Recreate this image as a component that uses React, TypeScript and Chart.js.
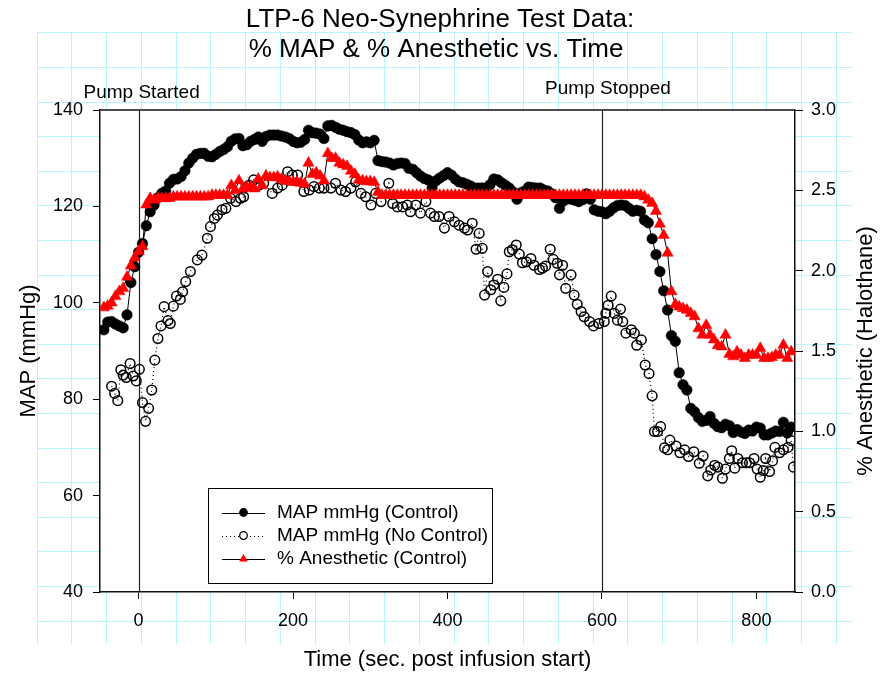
import React, { useEffect, useRef } from "react";
import { Chart, registerables } from "chart.js";

Chart.register(...registerables);
Chart.defaults.font.family = '"Liberation Sans", Arial, sans-serif';
Chart.defaults.color = "#000";

const TITLE_LINES = ["LTP-6 Neo-Synephrine Test Data:", "% MAP & % Anesthetic vs. Time"];
const X_TITLE = "Time (sec. post infusion start)";
const Y_TITLE = "MAP (mmHg)";
const Y1_TITLE = "% Anesthetic (Halothane)";
const SERIES_NAMES = ["MAP mmHg (Control)", "MAP mmHg (No Control)", "% Anesthetic (Control)"];
const EVENT_TIMES = [0, 600];
const EVENT_LABELS = ["Pump Started", "Pump Stopped"];
const X_TICKS = [0, 200, 400, 600, 800];
const Y_TICKS = [40, 60, 80, 100, 120, 140];
const Y1_TICKS = [0, 0.5, 1, 1.5, 2, 2.5, 3];

const controlTimes = [
  -45, -40, -35, -30, -25, -20, -15, -10, -5, 0,
  5, 10, 15, 20, 25, 30, 35, 40, 45, 50,
  55, 60, 65, 70, 75, 80, 85, 90, 95, 100,
  105, 110, 115, 120, 125, 130, 135, 140, 145, 150,
  155, 160, 165, 170, 175, 180, 185, 190, 195, 200,
  205, 210, 215, 220, 225, 230, 235, 240, 245, 250,
  255, 260, 265, 270, 275, 280, 285, 290, 295, 300,
  305, 310, 315, 320, 325, 330, 335, 340, 345, 350,
  355, 360, 365, 370, 375, 380, 385, 390, 395, 400,
  405, 410, 415, 420, 425, 430, 435, 440, 445, 450,
  455, 460, 465, 470, 475, 480, 485, 490, 495, 500,
  505, 510, 515, 520, 525, 530, 535, 540, 545, 550,
  555, 560, 565, 570, 575, 580, 585, 590, 595, 600,
  605, 610, 615, 620, 625, 630, 635, 640, 645, 650,
  655, 660, 665, 670, 675, 680, 685, 690, 695, 700,
  705, 710, 715, 720, 725, 730, 735, 740, 745, 750,
  755, 760, 765, 770, 775, 780, 785, 790, 795, 800,
  805, 810, 815, 820, 825, 830, 835, 840, 845,
];

const mapControl = [
  94.4, 96.0, 96.1, 95.6, 95.2, 94.8, 97.5, 104.2, 107.5, 110.5,
  112.3, 116.0, 118.9, 120.3, 121.8, 122.7, 123.2, 124.8, 125.6, 125.7,
  126.2, 127.4, 129.0, 130.0, 130.8, 131.0, 131.0, 130.4, 130.3, 130.8,
  131.4, 131.8, 132.4, 133.5, 134.0, 134.1, 132.6, 132.8, 133.5, 133.9,
  134.4, 133.5, 134.5, 134.8, 134.8, 134.8, 134.6, 134.4, 134.1, 133.5,
  133.2, 133.3, 133.9, 135.8, 135.3, 135.2, 135.0, 134.1, 136.7, 136.8,
  136.4, 136.0, 135.8, 135.5, 135.3, 134.9, 133.8, 133.2, 133.4, 133.2,
  133.7, 129.5, 129.3, 129.2, 129.0, 128.6, 128.9, 129.0, 128.9, 127.9,
  127.7, 127.0, 126.3, 125.8, 125.5, 123.8, 125.3, 125.9, 126.4, 127.0,
  126.5, 125.7, 125.1, 124.9, 124.6, 124.2, 123.8, 123.8, 123.8, 123.8,
  124.5, 125.7, 125.5, 124.9, 124.4, 123.8, 123.0, 121.5, 122.8, 123.2,
  124.0, 123.9, 123.8, 123.8, 123.4, 123.2, 122.6, 121.8, 119.6, 121.1,
  121.6, 121.5, 121.3, 121.0, 121.4, 122.6, 121.5, 119.3, 119.0, 118.9,
  118.5, 119.0, 119.7, 120.2, 120.3, 120.2, 119.6, 119.0, 119.2, 119.0,
  117.2, 116.6, 113.3, 110.0, 106.5, 102.5, 98.5, 93.2, 92.0, 85.5,
  83.0, 81.9, 78.1, 77.4, 76.2, 75.4, 75.6, 76.4, 75.0, 74.3,
  74.1, 74.8, 74.5, 73.1, 73.7, 73.2, 72.9, 73.6, 73.4, 74.2,
  74.0, 72.6, 72.6, 73.0, 73.4, 73.3, 75.2, 73.0, 74.2,
];

const anesthetic = [
  1.77, 1.78, 1.8, 1.84, 1.87, 1.89, 1.96, 2.03, 2.08, 2.12,
  2.15, 2.41, 2.45, 2.44, 2.45, 2.45, 2.45, 2.45, 2.46, 2.46,
  2.46, 2.46, 2.46, 2.46, 2.46, 2.46, 2.46, 2.46, 2.47, 2.47,
  2.47, 2.47, 2.47, 2.53, 2.5, 2.56, 2.51, 2.52, 2.52, 2.51,
  2.57, 2.53, 2.59, 2.58, 2.58, 2.585, 2.57, 2.56, 2.555, 2.55,
  2.55, 2.545, 2.54, 2.67, 2.6, 2.61, 2.59, 2.56, 2.73, 2.7,
  2.7, 2.67, 2.66, 2.65, 2.62, 2.6, 2.565, 2.56, 2.555, 2.555,
  2.55, 2.49, 2.47, 2.47, 2.47, 2.47, 2.47, 2.47, 2.47, 2.47,
  2.47, 2.47, 2.47, 2.47, 2.47, 2.47, 2.47, 2.47, 2.47, 2.47,
  2.47, 2.47, 2.47, 2.47, 2.47, 2.47, 2.47, 2.47, 2.47, 2.47,
  2.47, 2.47, 2.47, 2.47, 2.47, 2.47, 2.47, 2.47, 2.47, 2.47,
  2.47, 2.47, 2.47, 2.47, 2.47, 2.47, 2.47, 2.47, 2.47, 2.47,
  2.47, 2.47, 2.47, 2.47, 2.47, 2.47, 2.47, 2.47, 2.47, 2.47,
  2.47, 2.47, 2.47, 2.47, 2.47, 2.47, 2.47, 2.47, 2.47, 2.47,
  2.46, 2.44, 2.42, 2.37, 2.29, 2.22, 2.11, 1.87, 1.79, 1.775,
  1.765, 1.755, 1.735, 1.714, 1.64, 1.6, 1.66, 1.6, 1.57, 1.535,
  1.527, 1.6, 1.48, 1.465, 1.496, 1.475, 1.455, 1.475, 1.475, 1.475,
  1.517, 1.455, 1.455, 1.46, 1.475, 1.475, 1.537, 1.455, 1.496,
];

const noControlTimes = [
  -35, -31, -27, -23, -20, -16, -11, -7, -3, 1,
  5, 9, 13, 17, 21, 25, 29, 33, 38, 41,
  45, 49, 54, 57, 61, 67, 76, 82, 89, 93,
  98, 102, 108, 113, 119, 126, 132, 136, 143, 149,
  156, 162, 173, 180, 186, 193, 199, 206, 214, 221,
  227, 234, 240, 249, 255, 262, 268, 275, 281, 288,
  294, 301, 307, 314, 324, 329, 335, 342, 348, 352,
  359, 365, 372, 378, 383, 389, 396, 402, 409, 415,
  422, 426, 432, 437, 441, 445, 448, 452, 456, 460,
  465, 469, 473, 477, 480, 484, 489, 493, 497, 502,
  508, 512, 519, 523, 527, 533, 537, 542, 545, 549,
  553, 560, 564, 568, 573, 577, 584, 589, 596, 603,
  605, 608, 612, 616, 620, 624, 627, 631, 638, 642,
  645, 651, 656, 661, 665, 668, 672, 676, 681, 685,
  688, 696, 701, 707, 712, 719, 726, 731, 737, 741,
  746, 750, 756, 760, 765, 768, 772, 776, 782, 787,
  791, 797, 801, 805, 809, 812, 817, 821, 824, 830,
  835, 841, 845, 848,
];

const mapNoControl = [
  82.7, 81.2, 79.7, 86.1, 85.0, 84.5, 87.4, 84.8, 83.8, 86.2,
  79.3, 75.4, 78.1, 81.9, 88.1, 92.6, 95.2, 99.2, 96.3, 95.7,
  99.3, 101.4, 100.7, 102.3, 104.4, 106.5, 108.9, 109.9, 113.4, 115.8,
  117.5, 118.2, 119.3, 119.6, 121.7, 121.0, 121.7, 122.0, 124.4, 125.5,
  124.4, 124.8, 122.7, 123.8, 124.4, 127.2, 126.5, 126.5, 123.1, 123.4,
  124.1, 123.8, 123.8, 123.8, 124.8, 123.4, 123.1, 123.8, 125.1, 122.7,
  122.0, 120.3, 122.7, 121.0, 124.8, 120.6, 119.9, 119.9, 120.3, 118.9,
  120.3, 118.6, 121.0, 118.6, 117.9, 117.9, 115.5, 117.9, 116.8, 116.1,
  115.5, 115.1, 116.5, 111.1, 114.4, 111.3, 101.6, 106.5, 102.7, 103.7,
  104.9, 100.4, 103.2, 106.0, 110.6, 111.0, 112.0, 110.1, 108.3, 108.5,
  109.2, 107.8, 106.9, 107.2, 107.6, 111.1, 109.0, 108.2, 105.8, 107.8,
  103.0, 105.8, 101.6, 99.7, 98.2, 97.1, 96.1, 95.2, 95.7, 96.1,
  97.8, 99.5, 101.4, 97.8, 96.4, 98.7, 96.1, 93.7, 94.4, 93.7,
  91.2, 92.3, 87.1, 85.3, 80.7, 73.3, 73.3, 74.3, 69.9, 69.5,
  71.5, 70.3, 68.9, 69.5, 68.1, 69.1, 66.7, 68.2, 64.1, 65.3,
  66.3, 65.9, 63.6, 65.5, 67.7, 69.3, 65.7, 67.7, 66.8, 66.8,
  66.8, 67.7, 65.5, 63.8, 65.2, 67.7, 65.0, 67.2, 70.0, 68.9,
  69.5, 70.0, 71.4, 65.9,
];

const FONT = '"Liberation Sans", Arial, sans-serif';

const paperPlugin = {
  id: "paper",
  beforeDraw(chart: any) {
    const { ctx, chartArea: a, width, height } = chart;
    ctx.save();
    ctx.fillStyle = "#ffffff";
    ctx.fillRect(0, 0, width, height);
    ctx.strokeStyle = "#b8f5fb";
    ctx.lineWidth = 1;
    ctx.beginPath();
    for (let k = 0; k <= 23; k++) {
      const x = Math.round(36.7 + k * 34.74) + 0.5;
      ctx.moveTo(x, 32);
      ctx.lineTo(x, 644);
    }
    for (let k = 0; k <= 17; k++) {
      const y = Math.round(32.3 + k * 34.6) + 0.5;
      ctx.moveTo(37, y);
      ctx.lineTo(852, y);
    }
    ctx.stroke();
    ctx.fillStyle = "#ffffff";
    ctx.fillRect(a.left, a.top, a.right - a.left, a.bottom - a.top);
    ctx.restore();
  },
  beforeDatasetsDraw(chart: any) {
    const { ctx, chartArea: a, scales } = chart;
    ctx.save();
    ctx.strokeStyle = "#222";
    ctx.lineWidth = 1.2;
    EVENT_TIMES.forEach((t) => {
      const px = Math.round(scales.x.getPixelForValue(t)) + 0.5;
      ctx.beginPath();
      ctx.moveTo(px, a.top);
      ctx.lineTo(px, a.bottom);
      ctx.stroke();
    });
    ctx.restore();
  },
  afterDraw(chart: any) {
    const { ctx, chartArea: a, scales } = chart;
    ctx.save();
    ctx.strokeStyle = "#111";
    ctx.lineWidth = 1.5;
    ctx.beginPath();
    ctx.moveTo(a.left, a.top);
    ctx.lineTo(a.right, a.top);
    ctx.stroke();

    ctx.fillStyle = "#000";
    ctx.font = `26px ${FONT}`;
    ctx.textAlign = "center";
    ctx.textBaseline = "alphabetic";
    ctx.fillText(TITLE_LINES[0], 440, 27);
    ctx.fillText(TITLE_LINES[1], 436, 57);

    ctx.font = `19px ${FONT}`;
    const evOffsets = [3, 6];
    const evBase = [98, 94];
    EVENT_TIMES.forEach((t, i) => {
      const px = scales.x.getPixelForValue(t);
      ctx.fillText(EVENT_LABELS[i], px + evOffsets[i], evBase[i]);
    });

    ctx.save();
    ctx.translate(866, 351);
    ctx.rotate(-Math.PI / 2);
    ctx.font = `22px ${FONT}`;
    ctx.textBaseline = "middle";
    ctx.textAlign = "center";
    ctx.fillText(Y1_TITLE, 0, 0);
    ctx.restore();

    const L = { left: 208, top: 488, right: 492, bottom: 583 };
    ctx.fillStyle = "#fff";
    ctx.fillRect(L.left, L.top, L.right - L.left, L.bottom - L.top);
    ctx.strokeStyle = "#000";
    ctx.lineWidth = 1;
    ctx.strokeRect(L.left + 0.5, L.top + 0.5, L.right - L.left, L.bottom - L.top);
    const rows = [512.5, 535.5, 559];
    const x0 = 222, x1 = 265, xm = 243.5;
    rows.forEach((y, i) => {
      ctx.save();
      ctx.strokeStyle = "#000";
      ctx.lineWidth = 1;
      if (i === 1) ctx.setLineDash([1, 3]);
      ctx.beginPath();
      ctx.moveTo(x0, Math.round(y) + 0.5);
      ctx.lineTo(x1, Math.round(y) + 0.5);
      ctx.stroke();
      ctx.restore();
      ctx.beginPath();
      if (i === 0) {
        ctx.fillStyle = "#000";
        ctx.arc(xm, y, 4.4, 0, Math.PI * 2);
        ctx.fill();
      } else if (i === 1) {
        ctx.fillStyle = "#fff";
        ctx.strokeStyle = "#000";
        ctx.lineWidth = 1.3;
        ctx.arc(xm, y, 3.8, 0, Math.PI * 2);
        ctx.fill();
        ctx.stroke();
      } else {
        ctx.fillStyle = "#ff0000";
        const r = 5;
        ctx.moveTo(xm, y - r);
        ctx.lineTo(xm + r * 0.866, y + r * 0.5);
        ctx.lineTo(xm - r * 0.866, y + r * 0.5);
        ctx.closePath();
        ctx.fill();
      }
      ctx.fillStyle = "#000";
      ctx.font = `19px ${FONT}`;
      ctx.textAlign = "left";
      ctx.textBaseline = "middle";
      ctx.fillText(SERIES_NAMES[i], 277, y);
    });
    ctx.restore();
  },
};

export default function App() {
  const ref = useRef<HTMLCanvasElement>(null);
  useEffect(() => {
    if (!ref.current) return;
    const chart = new Chart(ref.current, {
      type: "line",
      data: {
        datasets: [
          {
            label: SERIES_NAMES[0],
            data: controlTimes.map((t, i) => ({ x: t, y: mapControl[i] })),
            yAxisID: "y",
            borderColor: "#000",
            borderWidth: 1,
            pointRadius: 5.3,
            pointBackgroundColor: "#000",
            pointBorderColor: "#000",
            pointBorderWidth: 0.5,
            order: 1,
          },
          {
            label: SERIES_NAMES[1],
            data: noControlTimes.map((t, i) => ({ x: t, y: mapNoControl[i] })),
            yAxisID: "y",
            borderColor: "#000",
            borderWidth: 1.2,
            borderDash: [1, 3],
            pointRadius: 4.8,
            pointBackgroundColor: "rgba(255,255,255,0)",
            pointBorderColor: "#000",
            pointBorderWidth: 1.5,
            order: 2,
          },
          {
            label: SERIES_NAMES[2],
            data: controlTimes.map((t, i) => ({ x: t, y: anesthetic[i] })),
            yAxisID: "y1",
            borderColor: "#000",
            borderWidth: 1,
            pointStyle: "triangle",
            pointRadius: 6.5,
            pointBackgroundColor: "#ff0000",
            pointBorderColor: "#ff0000",
            pointBorderWidth: 0.5,
            order: 0,
          },
        ],
      },
      options: {
        animation: false,
        responsive: false,
        devicePixelRatio: 1,
        events: [],
        layout: { padding: { top: 110, left: 0, right: 0, bottom: 0 } },
        elements: { line: { tension: 0 } },
        plugins: {
          legend: { display: false },
          title: { display: false },
          tooltip: { enabled: false },
        },
        scales: {
          x: {
            type: "linear",
            min: -50,
            max: 850,
            afterFit: (s: any) => { s.height = 84; },
            afterBuildTicks: (s: any) => { s.ticks = X_TICKS.map((v) => ({ value: v })); },
            grid: { drawOnChartArea: false, color: "#000", tickLength: 7, lineWidth: 1 },
            border: { display: true, color: "#111", width: 1.5 },
            ticks: { font: { size: 18 }, color: "#000", padding: 11, maxRotation: 0 },
            title: { display: true, text: X_TITLE, font: { size: 22 }, color: "#000", padding: { top: 0, bottom: 3 } },
          },
          y: {
            type: "linear",
            position: "left",
            min: 40,
            max: 140,
            afterFit: (s: any) => { s.width = 100; },
            afterBuildTicks: (s: any) => { s.ticks = Y_TICKS.map((v) => ({ value: v })); },
            grid: { drawOnChartArea: false, color: "#000", tickLength: 7, lineWidth: 1 },
            border: { display: true, color: "#111", width: 1.5 },
            ticks: { font: { size: 18 }, color: "#000", padding: 10 },
            title: { display: true, text: Y_TITLE, font: { size: 22 }, color: "#000", padding: { top: 16, bottom: 0 } },
          },
          y1: {
            type: "linear",
            position: "right",
            min: 0,
            max: 3,
            afterFit: (s: any) => { s.width = 86; },
            afterBuildTicks: (s: any) => { s.ticks = Y1_TICKS.map((v) => ({ value: v })); },
            grid: { drawOnChartArea: false, color: "#000", tickLength: 8, lineWidth: 1 },
            border: { display: true, color: "#111", width: 1.5 },
            ticks: {
              font: { size: 18 },
              color: "#000",
              padding: 8,
              callback: (v: any) => Number(v).toFixed(1),
            },
          },
        },
      },
      plugins: [paperPlugin],
    } as any);
    return () => chart.destroy();
  }, []);
  return (
    <div style={{ position: "absolute", left: 0, top: 0, width: 881, height: 676, background: "#fff" }}>
      <canvas ref={ref} width={881} height={676} style={{ display: "block", width: 881, height: 676 }} />
    </div>
  );
}
